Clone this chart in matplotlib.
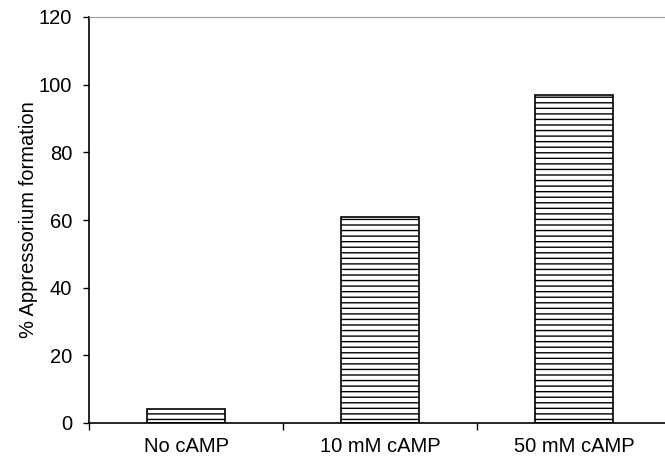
import matplotlib
matplotlib.use("Agg")
import matplotlib.pyplot as plt

categories = ["No cAMP", "10 mM cAMP", "50 mM cAMP"]
values = [4, 61, 97]

plt.rcParams['font.family'] = ['Liberation Sans', 'DejaVu Sans']
plt.rcParams['hatch.linewidth'] = 1.0

fig = plt.figure(figsize=(6.65, 4.57), dpi=100)
ax = fig.add_axes([89/665, 34/457, 582/665, 406/457])

x = range(len(categories))
ax.bar(x, values, width=0.4, color='white', edgecolor='black', linewidth=1.2, hatch='---')

ax.set_xlim(-0.5, 2.5)
ax.set_ylim(0, 120)
ax.set_yticks(range(0, 121, 20))
ax.set_xticks([-0.5, 0.5, 1.5, 2.5])
ax.set_xticklabels([])
ax.set_xticks(list(x), minor=True)
ax.set_xticklabels(categories, minor=True, fontsize=14.5)
ax.tick_params(axis='x', which='minor', length=0, pad=10)
ax.tick_params(axis='x', which='major', direction='out', length=5, width=1)
ax.tick_params(axis='y', direction='out', length=4, width=1, labelsize=14.5, pad=8)

ax.spines['right'].set_visible(False)
ax.spines['top'].set_color('#999999')
ax.spines['left'].set_linewidth(1.2)
ax.spines['bottom'].set_linewidth(1.2)

ax.set_ylabel("% Appressorium formation", fontsize=14.5, labelpad=1)

fig.savefig("out.png", dpi=100)
